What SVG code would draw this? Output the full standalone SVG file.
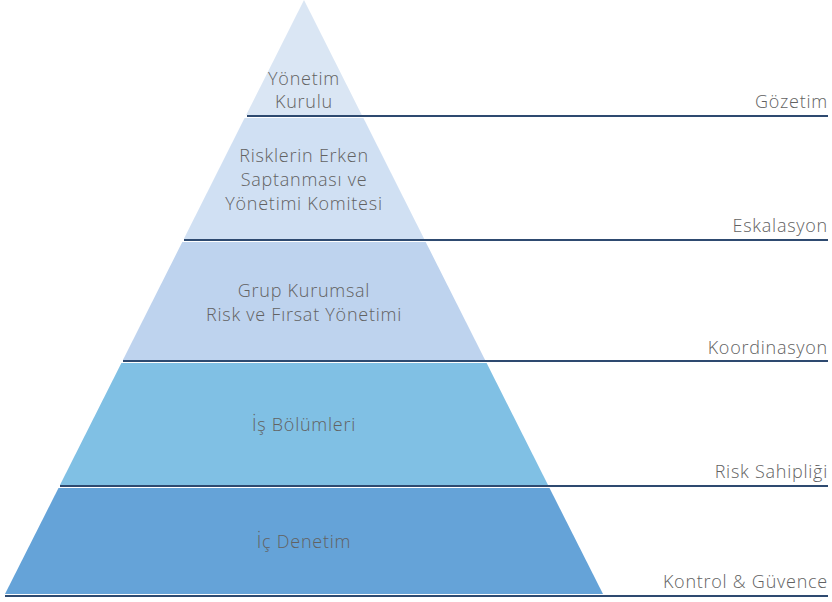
<svg xmlns="http://www.w3.org/2000/svg" width="832" height="602" viewBox="0 0 832 602">
<style>
.t{font-family:"Open Sans","Liberation Sans",sans-serif;font-size:18px;font-weight:300;letter-spacing:0.75px;fill:#626262;text-anchor:middle}
.r{font-family:"Open Sans","Liberation Sans",sans-serif;font-size:18px;font-weight:300;letter-spacing:0.75px;fill:#626262;text-anchor:end}
.ln{stroke:#2e4a70;stroke-width:2;fill:none}
</style>
<rect width="832" height="602" fill="#fff"/>
<g id="level1">
<polygon points="304,0 246.2,115 361.8,115" fill="#dae6f4"/>
<text class="t" x="304" y="85">Yönetim</text>
<text class="t" x="304" y="108">Kurulu</text>
</g>
<g id="level2">
<polygon points="244.6,118 363.4,118 424.2,239 183.8,239" fill="#d0e0f3"/>
<text class="t" x="304" y="162">Risklerin Erken</text>
<text class="t" x="304" y="186">Saptanması ve</text>
<text class="t" x="304" y="210">Yönetimi Komitesi</text>
</g>
<g id="level3">
<polygon points="182.3,242 425.7,242 485.1,360 122.9,360" fill="#bed3ee"/>
<text class="t" x="304" y="297">Grup Kurumsal</text>
<text class="t" x="304" y="321">Risk ve Fırsat Yönetimi</text>
</g>
<g id="level4">
<polygon points="121.4,363 486.6,363 548,485 60,485" fill="#80c0e4"/>
<text class="t" x="304" y="431">İş Bölümleri</text>
</g>
<g id="level5">
<polygon points="58.5,488 549.5,488 603,594 5,594" fill="#65a3d8"/>
<text class="t" x="304" y="548">İç Denetim</text>
</g>
<g id="connectors">
<line class="ln" x1="247" y1="116" x2="828" y2="116"/>
<line class="ln" x1="184" y1="240" x2="828" y2="240"/>
<line class="ln" x1="123" y1="361" x2="828" y2="361"/>
<line class="ln" x1="60" y1="486" x2="828" y2="486"/>
<line class="ln" x1="5" y1="596" x2="828" y2="596"/>
</g>
<g id="labels">
<text class="r" x="828" y="108">Gözetim</text>
<text class="r" x="828" y="232">Eskalasyon</text>
<text class="r" x="828" y="354">Koordinasyon</text>
<text class="r" x="828" y="478">Risk Sahipliği</text>
<text class="r" x="828" y="588">Kontrol &amp; Güvence</text>
</g>
</svg>
